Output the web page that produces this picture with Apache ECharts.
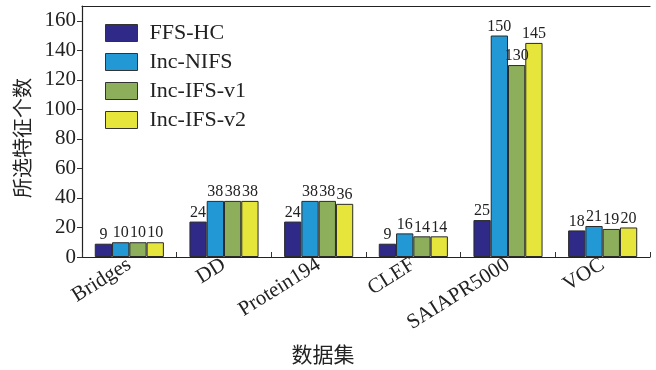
<!DOCTYPE html>
<html>
<head>
<meta charset="utf-8">
<script src="https://cdn.jsdelivr.net/npm/echarts@6/dist/echarts.min.js"></script>
<style>
  html, body { margin: 0; padding: 0; background: #fff; }
  #chart { width: 656px; height: 370px; }
</style>
</head>
<body>
<div id="chart"></div>
<script>
// Datasets on the x axis
const categories = ['Bridges', 'DD', 'Protein194', 'CLEF', 'SAIAPR5000', 'VOC'];

// Number of selected features per method
const ffsHC    = [9, 24, 24, 9, 25, 18];
const incNIFS  = [10, 38, 38, 16, 150, 21];
const incIFSv1 = [10, 38, 38, 14, 130, 19];
const incIFSv2 = [10, 38, 36, 14, 145, 20];

const seriesNames = ['FFS-HC', 'Inc-NIFS', 'Inc-IFS-v1', 'Inc-IFS-v2'];
const yTickValues = [0, 20, 40, 60, 80, 100, 120, 140, 160];

const colors = ['#2f2a88', '#2299d4', '#8daf5c', '#e6e53c'];
const serif = '"Liberation Serif", "Times New Roman", "Noto Sans CJK SC", serif';
const cjk = '"Noto Sans CJK SC", sans-serif';

const chart = echarts.init(document.getElementById('chart'), null, { renderer: 'canvas' });

function barSeries(name, data, color) {
  return {
    name: name,
    type: 'bar',
    data: data,
    barGap: '0%',
    barCategoryGap: '27%',
    itemStyle: { color: color, borderColor: '#2a2a2a', borderWidth: 1 },
    label: {
      show: true,
      position: 'top',
      distance: 1,
      fontFamily: serif,
      fontSize: 16,
      color: '#222'
    }
  };
}

chart.setOption({
  animation: false,
  color: colors,
  grid: { left: 82, right: 6, top: 6, bottom: 113 },
  legend: {
    orient: 'vertical',
    left: 105,
    top: 22,
    padding: 0,
    itemWidth: 32,
    itemHeight: 17,
    itemGap: 7,
    icon: 'rect',
    itemStyle: { borderColor: '#333', borderWidth: 1 },
    textStyle: {
      fontFamily: serif,
      fontSize: 22,
      color: '#222',
      padding: [0, 0, 0, 7]
    },
    data: seriesNames
  },
  xAxis: [
    {
      type: 'category',
      data: categories,
      axisLine: { lineStyle: { color: '#222', width: 1.2 } },
      axisTick: { show: true, inside: true, length: 5, lineStyle: { color: '#333' } },
      axisLabel: {
        rotate: 32,
        margin: 6,
        fontFamily: serif,
        fontSize: 21,
        color: '#222'
      }
    },
    {
      type: 'category',
      data: categories,
      position: 'top',
      axisLine: { lineStyle: { color: '#222', width: 1.2 } },
      axisTick: { show: false },
      axisLabel: { show: false }
    }
  ],
  yAxis: {
    type: 'value',
    min: 0,
    max: 170,
    interval: 20,
    splitLine: { show: false },
    axisLine: { show: true, lineStyle: { color: '#222', width: 1.2 } },
    axisTick: { show: true, length: 5, lineStyle: { color: '#333' }, customValues: yTickValues },
    axisLabel: {
      margin: 6,
      fontFamily: serif,
      fontSize: 21,
      color: '#222',
      customValues: yTickValues
    }
  },
  graphic: [
    {
      type: 'text',
      x: 22,
      y: 138,
      rotation: Math.PI / 2,
      style: {
        text: '所选特征个数',
        font: '20px ' + cjk,
        fill: '#222',
        align: 'center',
        verticalAlign: 'middle'
      }
    },
    {
      type: 'text',
      x: 323,
      y: 354,
      style: {
        text: '数据集',
        font: '21px ' + cjk,
        fill: '#222',
        align: 'center',
        verticalAlign: 'middle'
      }
    }
  ],
  series: [
    barSeries(seriesNames[0], ffsHC, colors[0]),
    barSeries(seriesNames[1], incNIFS, colors[1]),
    barSeries(seriesNames[2], incIFSv1, colors[2]),
    barSeries(seriesNames[3], incIFSv2, colors[3])
  ]
});
</script>
</body>
</html>
